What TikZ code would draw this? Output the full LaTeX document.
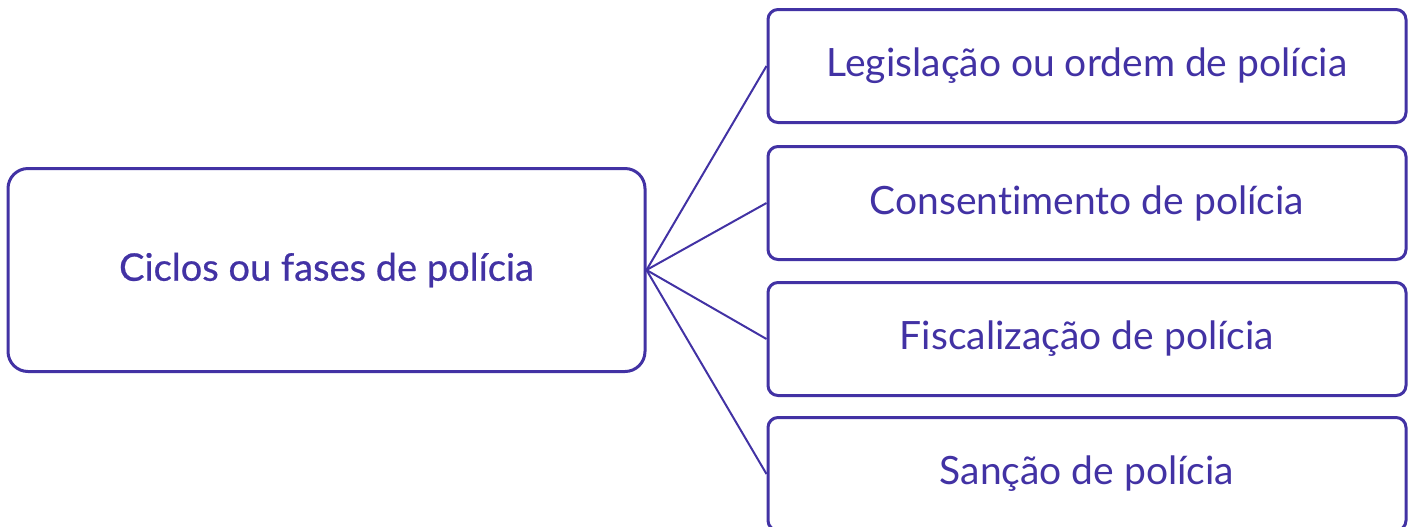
\documentclass[tikz,border=0pt]{standalone}
\usepackage{fontspec}
\setmainfont{Lato}[Ligatures=CommonOff]
\newfontfamily\midfont[FakeBold=0.6,Ligatures=CommonOff]{Lato}
\definecolor{fase}{HTML}{4232A4}

\begin{document}
\begin{tikzpicture}[x=0.5pt,y=-0.5pt,font=\fontsize{19.5}{23}\selectfont]
\tikzset{caixa/.style={draw=fase, line width=1.5pt, rounded corners=5pt, text=fase,
  minimum width=319pt, minimum height=56.5pt, inner sep=0pt}}
\useasboundingbox (0,0) rectangle (1415,526);

\pgfmathsetmacro{\xr}{1087};

\node[caixa, rounded corners=10pt, minimum width=318.5pt, minimum height=101.5pt,
  font=\fontsize{19}{23}\midfont] (ciclo) at (326.5,270) {Ciclos ou fases de polícia};

\node[caixa] (leg) at (\xr,66) {Legislação ou ordem de polícia};
\node[caixa] (cons) at (\xr,203) {Consentimento de polícia};
\node[caixa] (fisc) at (\xr,339) {Fiscalização de polícia};
\node[caixa] (sanc) at (\xr,474) {Sanção de polícia};

\foreach \f in {leg,cons,fisc,sanc}
  \draw[fase, line width=1pt] (ciclo.east) -- (\f.west);

\end{tikzpicture}
\end{document}
